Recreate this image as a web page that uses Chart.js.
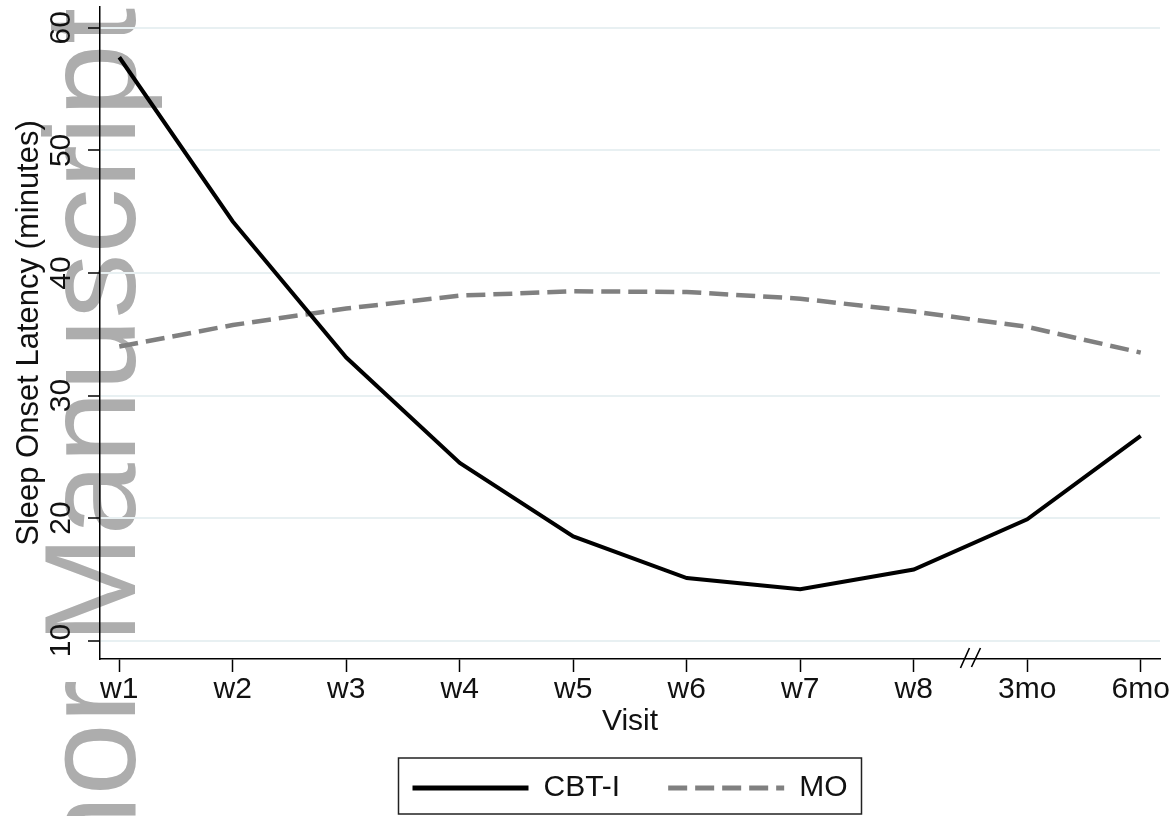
<!DOCTYPE html>
<html>
<head>
<meta charset="utf-8">
<script src="https://cdn.jsdelivr.net/npm/chart.js@4"></script>
<style>
  html, body { margin: 0; padding: 0; background: #fff; }
  #wrap { width: 1176px; height: 816px; }
</style>
</head>
<body>
<div id="wrap"><canvas id="solChart" width="1176" height="816"></canvas></div>
<script>
const visits = ['w1', 'w2', 'w3', 'w4', 'w5', 'w6', 'w7', 'w8', '3mo', '6mo'];
const cbtiValues = [57.6, 44.2, 33.1, 24.5, 18.5, 15.1, 14.2, 15.8, 19.9, 26.7];
const moValues = [34.0, 35.75, 37.1, 38.15, 38.5, 38.45, 37.9, 36.85, 35.6, 33.5];
const yTicks = [10, 20, 30, 40, 50, 60];
const breakAt = 7.5; // axis break between w8 and 3mo

const textColor = '#111';
const gridColor = '#e8f0f2';
const fontFamily = '"Liberation Sans", Arial, sans-serif';

Chart.defaults.font.family = fontFamily;
Chart.defaults.color = textColor;

// grey "Author Manuscript" stamp behind the plot
const stampPlugin = {
    id: 'stamp',
    beforeDraw(chart) {
        const ctx = chart.ctx;
        ctx.save();
        ctx.translate(135, 8);
        ctx.rotate(-Math.PI / 2);
        ctx.font = '130px ' + fontFamily;
        ctx.fillStyle = '#adadad';
        ctx.textAlign = 'right';
        ctx.textBaseline = 'alphabetic';
        ctx.fillText('Author Manuscript', 0, 0);
        ctx.restore();
    }
};

// "//" break marks on the x axis + box round the legend
const extrasPlugin = {
    id: 'extras',
    afterDraw(chart) {
        const ctx = chart.ctx;
        const px = chart.scales.x.getPixelForValue(breakAt);
        const py = chart.chartArea.bottom;
        ctx.save();
        ctx.strokeStyle = '#000';
        ctx.lineWidth = 1.6;
        ctx.beginPath();
        ctx.moveTo(px - 10, py + 9);
        ctx.lineTo(px - 1, py - 11);
        ctx.moveTo(px + 1, py + 8);
        ctx.lineTo(px + 10, py - 11);
        ctx.stroke();

        const boxes = chart.legend.legendHitBoxes;
        if (boxes && boxes.length) {
            const first = boxes[0];
            const last = boxes[boxes.length - 1];
            const left = first.left - 14;
            const right = last.left + last.width + 14;
            const top = first.top - 15;
            const bottom = first.top + first.height + 11;
            ctx.strokeStyle = '#222';
            ctx.lineWidth = 1.5;
            ctx.strokeRect(left, top, right - left, bottom - top);
        }
        ctx.restore();
    }
};

const ctx = document.getElementById('solChart');
new Chart(ctx, {
    type: 'line',
    data: {
        datasets: [{
            label: 'CBT-I',
            data: visits.map((v, i) => ({ x: i, y: cbtiValues[i] })),
            borderColor: '#000',
            backgroundColor: '#000',
            borderWidth: 4,
            pointRadius: 0,
            tension: 0
        }, {
            label: 'MO',
            data: visits.map((v, i) => ({ x: i, y: moValues[i] })),
            borderColor: '#808080',
            backgroundColor: '#808080',
            borderWidth: 4.5,
            borderDash: [19, 8],
            pointRadius: 0,
            tension: 0
        }]
    },
    options: {
        responsive: false,
        animation: false,
        layout: {
            padding: { top: 7, right: 16, bottom: 3, left: 0 }
        },
        plugins: {
            legend: {
                position: 'bottom',
                fullSize: false,
                labels: {
                    usePointStyle: true,
                    pointStyle: 'line',
                    pointStyleWidth: 116,
                    padding: 48,
                    color: textColor,
                    font: { size: 30 },
                    generateLabels(chart) {
                        const items = Chart.defaults.plugins.legend.labels.generateLabels(chart);
                        return items.map(item => {
                            const ds = chart.data.datasets[item.datasetIndex];
                            return Object.assign(item, {
                                lineWidth: 5,
                                strokeStyle: ds.borderColor,
                                lineDash: ds.borderDash || []
                            });
                        });
                    }
                }
            },
            tooltip: { enabled: false }
        },
        scales: {
            x: {
                type: 'linear',
                min: -0.17,
                max: 9.17,
                afterBuildTicks(scale) {
                    scale.ticks = visits.map((v, i) => ({ value: i }));
                },
                afterFit(scale) {
                    scale.height = 66;
                },
                ticks: {
                    padding: 0,
                    color: textColor,
                    font: { size: 30 },
                    maxRotation: 0,
                    callback: (value) => visits[value]
                },
                grid: {
                    drawOnChartArea: false,
                    drawTicks: true,
                    tickLength: 13,
                    tickColor: '#000',
                    tickWidth: 1.5
                },
                border: { display: true, color: '#000', width: 1.5 },
                title: {
                    display: true,
                    text: 'Visit',
                    color: textColor,
                    font: { size: 30 },
                    padding: { top: 0, bottom: -15 }
                }
            },
            y: {
                type: 'linear',
                min: 8.5,
                max: 61.7,
                afterBuildTicks(scale) {
                    scale.ticks = yTicks.map(v => ({ value: v }));
                },
                afterFit(scale) {
                    scale.width = 100;
                    scale.paddingTop = 0;
                    scale.paddingBottom = 0;
                },
                ticks: {
                    minRotation: 90,
                    maxRotation: 90,
                    crossAlign: 'center',
                    padding: 10,
                    color: textColor,
                    font: { size: 30 }
                },
                grid: {
                    color: gridColor,
                    lineWidth: 2,
                    drawTicks: true,
                    tickLength: 12,
                    tickColor: '#000',
                    tickWidth: 1.5
                },
                border: { display: true, color: '#000', width: 1.5 },
                title: {
                    display: true,
                    text: 'Sleep Onset Latency (minutes)',
                    color: textColor,
                    font: { size: 31 },
                    padding: { top: 11, bottom: 0 }
                }
            }
        }
    },
    plugins: [stampPlugin, extrasPlugin]
});
</script>
</body>
</html>
